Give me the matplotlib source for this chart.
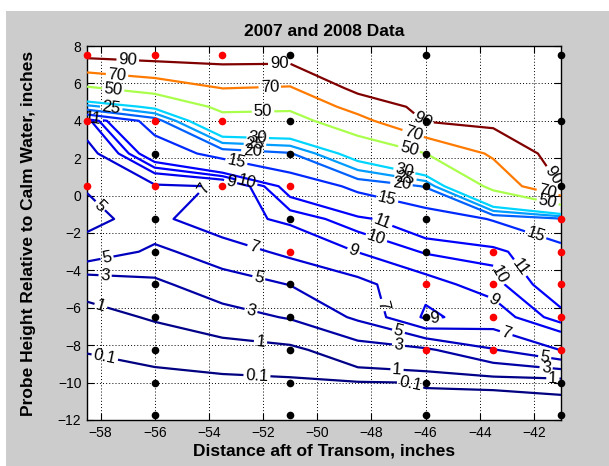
import numpy as np
import matplotlib
matplotlib.use("Agg")
import matplotlib.pyplot as plt
from matplotlib.patches import Rectangle
from matplotlib.colors import Normalize

plt.rcParams['font.family'] = ['Liberation Sans', 'DejaVu Sans']

# ---- grid of probe stations (x: distance aft of transom, y: probe height) ----
x_cols = [-58.5, -56.0, -53.5, -51.0, -48.5, -46.0, -43.5, -41.0]
y_rows = [7.5, 5.75, 4.75, 4.0, 2.25, 0.5, -1.25, -3.0, -4.75, -6.5, -8.25, -10.0, -11.75]

# values at each station, one list per x column (top row first)
z_x_m58_5 = [94, 48, 23, 8.5, 5.95, 5.26, 4.0, 6.5, 1.5, 0.55, 0.11, 0.02, 0.0]
z_x_m56_0 = [97, 58, 32, 17, 12.5, 6.7, 6.5, 4.54, 2.6, 1.13, 0.21, 0.0, 0.0]
z_x_m53_5 = [97.5, 70.3, 54.6, 42.8, 16.5, 7.1, 8.3, 6.0, 4.1, 2.22, 0.28, 0.036, 0.0]
z_x_m51_0 = [97.4, 68.5, 53.2, 42.7, 19.5, 11.8, 9.35, 7.48, 5.05, 3.16, 0.61, 0.0, 0.0]
z_x_m48_5 = [99, 95.4, 77.5, 63.4, 34.2, 16, 10.6, 9.05, 6.4, 5.35, 2.08, 0.05, 0.0]
z_x_m46_0 = [99, 97, 95, 91, 49.8, 20.3, 12.3, 10.1, 8.5, 9.3, 2.65, 0.12, 0.0]
z_x_m43_5 = [99, 98, 97, 95, 73, 55, 15.3, 10.3, 9.6, 8.22, 4.88, 0.13, 0.0]
z_x_m41_0 = [99.5, 99.5, 99.5, 99.3, 98.8, 90.3, 19.2, 13.5, 12.0, 10.6, 7.05, 0.16, 0.0]

levels = [0.1, 1, 3, 5, 7, 9, 10, 11, 15, 20, 25, 30, 50, 70, 90]

# measurement points
red_x = [-58.5, -58.5, -58.5, -56, -56, -56, -53.5, -53.5, -53.5, -51, -51,
         -46, -46, -43.5, -43.5, -43.5, -43.5, -41, -41, -41, -41, -41]
red_y = [7.5, 4.0, 0.5, 7.5, 4.0, 0.5, 7.5, 4.0, 0.5, 0.5, -3.0,
         -4.75, -8.25, -3.0, -4.75, -6.5, -8.25, -1.25, -3.0, -4.75, -6.5, -8.25]
black_x = [-56] * 8 + [-51] * 9 + [-46] * 9 + [-41] * 5
black_y = [2.25, -1.25, -3.0, -4.75, -6.5, -8.25, -10.0, -11.75,
           7.5, 4.0, 2.25, -1.25, -4.75, -6.5, -8.25, -10.0, -11.75,
           7.5, 4.0, 2.25, 0.5, -1.25, -3.0, -6.5, -10.0, -11.75,
           7.5, 4.0, 0.5, -10.0, -11.75]

x_ticks = [-58, -56, -54, -52, -50, -48, -46, -44, -42]
y_ticks = [-12, -10, -8, -6, -4, -2, 0, 2, 4, 6, 8]

# label anchor spots (layout only)
label_positions = [
    (-57.0, 7.1), (-51.4, 6.95), (-46.3, 3.7), (-41.45, 0.95),
    (-57.4, 6.3), (-51.75, 5.7), (-46.5, 3.15), (-41.5, 0.15),
    (-57.55, 5.5), (-52.0, 4.3), (-46.65, 2.28), (-41.5, -0.4),
    (-57.6, 4.75), (-52.2, 3.0), (-46.8, 1.2),
    (-52.3, 2.7), (-46.75, 0.9),
    (-52.4, 2.2), (-46.9, 0.5),
    (-58.3, 4.1), (-53.0, 1.73), (-47.44, -0.33), (-41.9, -1.95),
    (-52.6, 0.8), (-47.56, -1.3), (-42.5, -3.85),
    (-47.87, -2.48), (-43.3, -4.25),
    (-53.2, 0.74), (-48.68, -3.02), (-43.5, -5.6), (-45.66, -6.38),
    (-53.6, -0.4), (-52.4, -3.0), (-47.87, -5.96), (-43.08, -7.6),
    (-58.06, -0.61), (-57.76, -3.34), (-52.19, -4.57), (-47.06, -7.56), (-41.6, -8.62),
    (-57.84, -4.51), (-52.49, -6.39), (-47.02, -8.26), (-41.55, -9.22),
    (-58.0, -5.94), (-52.1, -7.88), (-47.06, -9.43), (-41.3, -9.78),
    (-57.84, -8.61), (-52.23, -9.75), (-46.58, -10.13),
]

# ---- build field ----
Z = np.column_stack([z_x_m58_5, z_x_m56_0, z_x_m53_5, z_x_m51_0,
                     z_x_m48_5, z_x_m46_0, z_x_m43_5, z_x_m41_0])[::-1]
yy = np.array(y_rows)[::-1]
X, Y = np.meshgrid(x_cols, yy)

W, H = 609, 466
fig = plt.figure(figsize=(W / 100, H / 100), dpi=100)
fig.patch.set_facecolor('white')
fig.patches.append(Rectangle((6 / W, 0), 1, 1 - 11 / H, transform=fig.transFigure,
                             facecolor='#cccccc', edgecolor='none', zorder=-10))
ax = fig.add_axes([87 / W, 46 / H, 474 / W, 374 / H])
ax.set_facecolor('white')

cs = ax.contour(X, Y, Z, levels=levels, cmap='jet', norm=Normalize(0, 90),
                linewidths=1.6, zorder=3)
ax.clabel(cs, manual=label_positions, inline=True, inline_spacing=2,
          fontsize=12, colors='k', fmt=lambda v: f"{v:g}")

ax.plot(red_x, red_y, 'o', color='red', ms=5.5, mew=0, clip_on=False, zorder=6)
ax.plot(black_x, black_y, 'o', color='black', ms=5.5, mew=0, clip_on=False, zorder=6)

ax.set_xlim(-58.5, -41)
ax.set_ylim(-12, 8)
ax.set_xticks(x_ticks)
ax.set_yticks(y_ticks)
ax.grid(True, color='k', linestyle=(0, (1, 2.2)), linewidth=0.7)
ax.set_axisbelow(True)
ax.tick_params(direction='in', length=5, top=True, right=True, labelsize=10,
               width=0.8, pad=4)
for s in ax.spines.values():
    s.set_linewidth(1.0)

ax.set_title('2007 and 2008 Data', fontsize=12.5, fontweight='bold', pad=7)
ax.set_xlabel('Distance aft of Transom, inches', fontsize=12.5, fontweight='bold')
ax.set_ylabel('Probe Height Relative to Calm Water, inches', fontsize=12.5,
              fontweight='bold')
ax.xaxis.set_label_coords(0.5, -0.062)
ax.yaxis.set_label_coords(-0.108, 0.5)

fig.savefig('out.png', dpi=100, facecolor=fig.get_facecolor())
